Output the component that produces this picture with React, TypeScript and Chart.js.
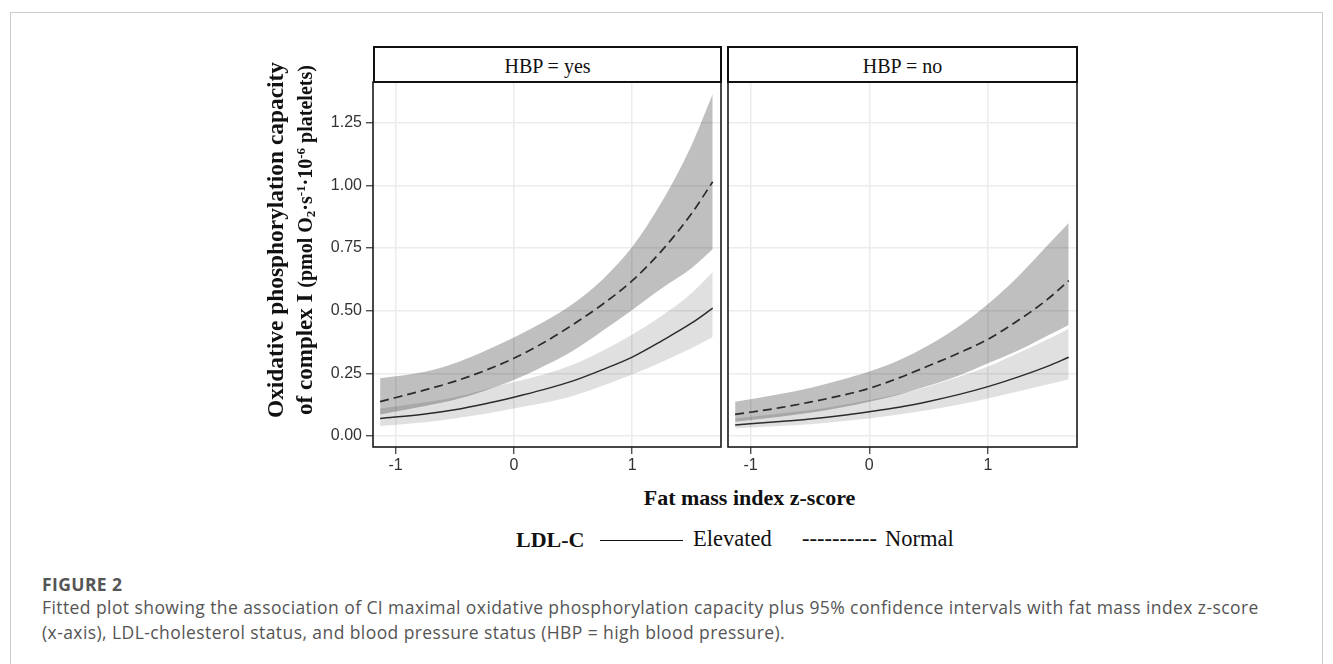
import React, { useEffect, useRef } from 'react';
import { Chart, registerables } from 'chart.js';

Chart.register(...registerables);

// ---------- data ----------
const xGrid = [-1.13, -0.75, -0.5, -0.25, 0, 0.25, 0.5, 0.75, 1.0, 1.25, 1.5, 1.68];

// HBP = yes
const yesNormalFit = [0.137, 0.184, 0.218, 0.26, 0.31, 0.372, 0.445, 0.526, 0.62, 0.74, 0.887, 1.015];
const yesNormalUpper = [0.23, 0.256, 0.29, 0.338, 0.393, 0.455, 0.528, 0.625, 0.755, 0.935, 1.16, 1.365];
const yesNormalLower = [0.086, 0.12, 0.145, 0.18, 0.223, 0.278, 0.34, 0.42, 0.503, 0.59, 0.67, 0.745];
const yesElevatedFit = [0.07, 0.088, 0.105, 0.128, 0.155, 0.185, 0.22, 0.265, 0.315, 0.38, 0.45, 0.51];
const yesElevatedUpper = [0.11, 0.135, 0.155, 0.185, 0.215, 0.245, 0.285, 0.34, 0.405, 0.48, 0.57, 0.655];
const yesElevatedLower = [0.04, 0.055, 0.07, 0.088, 0.11, 0.132, 0.16, 0.2, 0.245, 0.295, 0.35, 0.395];

// HBP = no
const noNormalFit = [0.086, 0.113, 0.135, 0.16, 0.19, 0.232, 0.28, 0.33, 0.386, 0.46, 0.545, 0.62];
const noNormalUpper = [0.137, 0.168, 0.192, 0.222, 0.257, 0.302, 0.362, 0.436, 0.527, 0.635, 0.76, 0.85];
const noNormalLower = [0.057, 0.077, 0.093, 0.113, 0.137, 0.165, 0.2, 0.24, 0.29, 0.34, 0.4, 0.443];
const noElevatedFit = [0.044, 0.058, 0.068, 0.081, 0.097, 0.115, 0.138, 0.165, 0.197, 0.235, 0.278, 0.314];
const noElevatedUpper = [0.07, 0.09, 0.104, 0.122, 0.144, 0.168, 0.198, 0.235, 0.277, 0.33, 0.385, 0.428];
const noElevatedLower = [0.031, 0.04, 0.047, 0.058, 0.07, 0.086, 0.104, 0.125, 0.15, 0.178, 0.205, 0.226];

const xTicks = [-1, 0, 1];
const yTicks = [0, 0.25, 0.5, 0.75, 1.0, 1.25];
const panelTitles = ['HBP = yes', 'HBP = no'];
const legendTitle = 'LDL-C';
const legendLabels = ['Elevated', 'Normal'];
const xTitle = 'Fat mass index z-score';
const figureLabel = 'FIGURE 2';
const captionLines = [
  'Fitted plot showing the association of CI maximal oxidative phosphorylation capacity plus 95% confidence intervals with fat mass index z-score',
  '(x-axis), LDL-cholesterol status, and blood pressure status (HBP = high blood pressure).',
];

// ---------- styling ----------
const SERIF = '"Liberation Serif", "Times New Roman", serif';
const SANS = '"Liberation Sans", Arial, sans-serif';
const CAPTION_FONT = '"Open Sans", "Noto Sans", sans-serif';
const LINE_COLOR = '#2b2b2b';

const pts = (vals: number[]) => xGrid.map((x, i) => ({ x, y: vals[i] }));

type Panel = {
  nf: number[]; nu: number[]; nl: number[];
  ef: number[]; eu: number[]; el: number[];
};

const yesPanel: Panel = {
  nf: yesNormalFit, nu: yesNormalUpper, nl: yesNormalLower,
  ef: yesElevatedFit, eu: yesElevatedUpper, el: yesElevatedLower,
};
const noPanel: Panel = {
  nf: noNormalFit, nu: noNormalUpper, nl: noNormalLower,
  ef: noElevatedFit, eu: noElevatedUpper, el: noElevatedLower,
};

const boxPlugin = {
  id: 'panelBox',
  afterDraw(chart: any) {
    const { ctx, chartArea: a } = chart;
    ctx.save();
    ctx.strokeStyle = '#1a1a1a';
    ctx.lineWidth = 1.6;
    ctx.strokeRect(a.left, a.top, a.right - a.left, a.bottom - a.top);
    ctx.restore();
  },
};

function bandDs(vals: number[], fill: any, color: string, order: number) {
  return {
    data: pts(vals),
    borderWidth: 0,
    borderColor: 'rgba(0,0,0,0)',
    backgroundColor: color,
    pointRadius: 0,
    fill,
    cubicInterpolationMode: 'monotone',
    order,
  };
}

function makeConfig(p: Panel, showY: boolean): any {
  return {
    type: 'line',
    data: {
      datasets: [
        bandDs(p.eu, '+1', 'rgba(0,0,0,0.12)', 6),
        bandDs(p.el, false, 'rgba(0,0,0,0)', 6),
        bandDs(p.nu, '+1', 'rgba(0,0,0,0.25)', 5),
        bandDs(p.nl, false, 'rgba(0,0,0,0)', 5),
        {
          label: legendLabels[1],
          data: pts(p.nf),
          borderColor: LINE_COLOR,
          borderWidth: 1.7,
          borderDash: [9, 5],
          pointRadius: 0,
          fill: false,
          cubicInterpolationMode: 'monotone',
          order: 1,
        },
        {
          label: legendLabels[0],
          data: pts(p.ef),
          borderColor: LINE_COLOR,
          borderWidth: 1.5,
          pointRadius: 0,
          fill: false,
          cubicInterpolationMode: 'monotone',
          order: 1,
        },
      ],
    },
    options: {
      responsive: false,
      animation: false,
      devicePixelRatio: 1,
      layout: { padding: { left: showY ? 0 : 4, top: 2, right: 4, bottom: 0 } },
      plugins: { legend: { display: false }, tooltip: { enabled: false }, title: { display: false } },
      scales: {
        x: {
          type: 'linear',
          min: -1.19,
          max: 1.75,
          afterBuildTicks: (axis: any) => { axis.ticks = xTicks.map((v) => ({ value: v })); },
          afterFit: (axis: any) => {
            axis.height = 30;
            axis.paddingLeft = 0; axis.paddingRight = 0;
          },
          border: { display: false },
          grid: { color: '#ececec', lineWidth: 1.5, tickColor: '#333', tickLength: 7, tickWidth: 1.2 },
          ticks: {
            color: '#333',
            padding: 2,
            font: { family: SANS, size: 16 },
            callback: (v: number) => String(v),
          },
        },
        y: {
          type: 'linear',
          min: -0.044,
          max: 1.413,
          afterBuildTicks: (axis: any) => { axis.ticks = yTicks.map((v) => ({ value: v })); },
          afterFit: (axis: any) => {
            axis.width = showY ? 73 : 0;
            axis.paddingTop = 0; axis.paddingBottom = 0;
          },
          border: { display: false },
          grid: {
            color: '#ececec', lineWidth: 1.5, tickColor: '#333',
            tickLength: 7, tickWidth: 1.2, drawTicks: showY,
          },
          ticks: {
            display: showY,
            color: '#333',
            padding: 4,
            font: { family: SANS, size: 16 },
            callback: (v: number) => v.toFixed(2),
          },
        },
      },
    },
    plugins: [boxPlugin],
  };
}

const abs = (s: React.CSSProperties): React.CSSProperties => ({ position: 'absolute', margin: 0, ...s });

export default function App() {
  const leftRef = useRef<HTMLCanvasElement>(null);
  const rightRef = useRef<HTMLCanvasElement>(null);

  useEffect(() => {
    const c1 = new Chart(leftRef.current as HTMLCanvasElement, makeConfig(yesPanel, true));
    const c2 = new Chart(rightRef.current as HTMLCanvasElement, makeConfig(noPanel, false));
    return () => { c1.destroy(); c2.destroy(); };
  }, []);

  const strip = (left: number, width: number, text: string) => (
    <div
      style={abs({
        left, top: 46, width, height: 37, boxSizing: 'border-box',
        border: '2px solid #111', background: '#fff',
        fontFamily: SERIF, fontSize: 20, lineHeight: '20px', color: '#111',
        textAlign: 'center', paddingTop: 8, whiteSpace: 'nowrap',
      })}
    >
      {text}
    </div>
  );

  const legendText = (left: number, text: string, bold: boolean, size: number) => (
    <div style={abs({
      left, top: 547 - 0.8375 * size, fontFamily: SERIF, fontSize: size, lineHeight: `${size}px`,
      fontWeight: bold ? 'bold' : 'normal', color: '#111', whiteSpace: 'nowrap',
    })}>{text}</div>
  );

  const supStyle: React.CSSProperties = { fontSize: 13, verticalAlign: '0.55em', lineHeight: 0 };
  const subStyle: React.CSSProperties = { fontSize: 13, verticalAlign: '-0.25em', lineHeight: 0 };

  return (
    <div style={abs({ left: 0, top: 0, width: 1333, height: 664, background: '#fff', overflow: 'hidden' })}>
      {/* outer figure frame */}
      <div style={abs({ left: 10, top: 12, width: 1313, height: 700, border: '1px solid #cccccc', boxSizing: 'border-box' })} />

      <canvas ref={leftRef} width={425} height={397} style={abs({ left: 300, top: 80, width: 425, height: 397 })} />
      <canvas ref={rightRef} width={357} height={397} style={abs({ left: 724, top: 80, width: 357, height: 397 })} />

      {strip(373, 349, panelTitles[0])}
      {strip(727, 351, panelTitles[1])}

      {/* y-axis title */}
      <div style={abs({
        left: 289.5 - 210, top: 240 - 30, width: 420, height: 60,
        transform: 'rotate(-90deg)', transformOrigin: '50% 50%',
        fontFamily: SERIF, fontWeight: 'bold', textAlign: 'center', color: '#111',
        lineHeight: '30px', whiteSpace: 'nowrap',
      })}>
        <div style={{ fontSize: 23.4 }}>Oxidative phosphorylation capacity</div>
        <div style={{ fontSize: 23 }}>
          of complex I{' '}
          <span style={{ fontSize: 20 }}>
            (pmol O<span style={subStyle}>2</span>·s<span style={supStyle}>-1</span>·10<span style={supStyle}>-6</span> platelets)
          </span>
        </div>
      </div>

      {/* x-axis title */}
      <div style={abs({
        left: 749.5 - 300, width: 600, top: 505 - 0.8375 * 22, textAlign: 'center',
        fontFamily: SERIF, fontWeight: 'bold', fontSize: 22, lineHeight: '22px', color: '#111',
      })}>{xTitle}</div>

      {/* legend */}
      {legendText(516, legendTitle, true, 22)}
      <div style={abs({ left: 600, top: 539.5, width: 83, height: 0, borderTop: '1.6px solid #111' })} />
      {legendText(693, legendLabels[0], false, 22.5)}
      {legendText(802, '----------', false, 22.5)}
      {legendText(885, legendLabels[1], false, 22.5)}

      {/* caption */}
      <div style={abs({
        left: 42, top: 591 - 15.5, fontFamily: CAPTION_FONT, fontWeight: 'bold', fontSize: 17.5,
        letterSpacing: 0.4, lineHeight: '17.5px', color: '#555', whiteSpace: 'nowrap',
      })}>{figureLabel}</div>
      <div style={abs({
        left: 42, top: 595, fontFamily: CAPTION_FONT, fontSize: 17.5, letterSpacing: 0.42,
        lineHeight: '24.5px', color: '#555', whiteSpace: 'nowrap',
      })}>
        {captionLines.map((l, i) => <div key={i}>{l}</div>)}
      </div>
    </div>
  );
}
